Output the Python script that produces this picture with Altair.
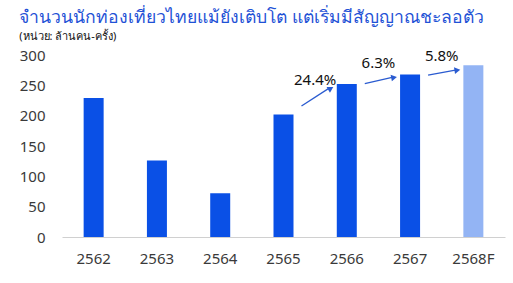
import altair as alt
import pandas as pd
import math

years = ["2562", "2563", "2564", "2565", "2566", "2567", "2568F"]
values = [229, 126, 72, 202, 252, 268, 283]
forecast = [False, False, False, False, False, False, True]

growth_from = ["2565", "2566", "2567"]
growth_to = ["2566", "2567", "2568F"]
growth_labels = ["24.4%", "6.3%", "5.8%"]
arrow_start = [216, 253, 267]
arrow_end = [245, 263, 275]
label_y = [258, 287, 299]
y_ticks = [0, 50, 100, 150, 200, 250, 300]

W, H = 443, 182
Y_MAX = 300
step = W / len(years)
px_per_unit = H / Y_MAX

bars = pd.DataFrame({"year": years, "value": values, "forecast": forecast})

START_OFF, END_OFF = 18, -15
angles = []
for s, e in zip(arrow_start, arrow_end):
    dx = step + END_OFF - START_OFF
    dy = (e - s) * px_per_unit
    angles.append(90 - math.degrees(math.atan2(dy, dx)))

arrows = pd.DataFrame({
    "from": growth_from, "to": growth_to, "y1": arrow_start, "y2": arrow_end,
    "label": growth_labels, "ly": label_y, "angle": angles,
})

xscale = alt.Scale(domain=years, paddingInner=0, paddingOuter=0)
yscale = alt.Scale(domain=[0, Y_MAX])

x_axis = alt.Axis(labelAngle=0, ticks=False, domainColor="#d0d0d0",
                  labelFontSize=15, labelColor="#3a3a3a", labelPadding=14,
                  labelFont="Noto Sans", grid=False)
y_axis = alt.Axis(values=y_ticks, grid=False, domain=False, ticks=False,
                  labelFontSize=15, labelOverlap=False, labelColor="#3a3a3a",
                  labelPadding=17, labelFont="Noto Sans")

bar_layer = alt.Chart(bars).mark_bar(width=20).encode(
    x=alt.X("year:N", scale=xscale, sort=years, title=None, axis=x_axis),
    y=alt.Y("value:Q", scale=yscale, title=None, axis=y_axis),
    color=alt.Color("forecast:N", scale=alt.Scale(domain=[False, True],
                    range=["#0a50e6", "#93b4f4"]), legend=None),
)

arrow_color = "#2a5bd0"
rule_layer = alt.Chart(arrows).mark_rule(color=arrow_color, strokeWidth=1.3,
                                         xOffset=START_OFF, x2Offset=END_OFF - 3).encode(
    x=alt.X("from:N", scale=xscale, sort=years, title=None, axis=x_axis),
    x2="to:N",
    y=alt.Y("y1:Q", scale=yscale, title=None, axis=y_axis),
    y2="y2:Q",
)

head_layer = alt.Chart(arrows).mark_point(shape="triangle-up", filled=True, size=45,
                                          color=arrow_color, opacity=1,
                                          xOffset=END_OFF - 1).encode(
    x=alt.X("to:N", scale=xscale, sort=years, title=None, axis=x_axis),
    y=alt.Y("y2:Q", scale=yscale, title=None, axis=y_axis),
    angle=alt.Angle("angle:Q", scale=None),
)

text_layer = alt.Chart(arrows).mark_text(fontSize=15, color="#111111", font="Noto Sans",
                                         xOffset=step / 2, baseline="middle").encode(
    x=alt.X("from:N", scale=xscale, sort=years, title=None, axis=x_axis),
    y=alt.Y("ly:Q", scale=yscale, title=None, axis=y_axis),
    text="label:N",
)

chart = alt.layer(bar_layer, rule_layer, head_layer, text_layer).properties(
    width=W, height=H,
    title=alt.TitleParams(
        "จำนวนนักท่องเที่ยวไทยแม้ยังเติบโต แต่เริ่มมีสัญญาณชะลอตัว",
        subtitle="(หน่วย: ล้านคน-ครั้ง)",
        anchor="start", frame="bounds", fontSize=17.6, fontWeight="normal",
        color="#1f52d6", subtitleFontSize=11, subtitleColor="#111111",
        subtitlePadding=4, offset=6, font="Noto Sans", subtitleFont="Noto Sans",
    ),
    autosize=alt.AutoSizeParams(type="none"),
    padding={"left": 62, "top": 55, "right": 8, "bottom": 46},
    background="white",
).configure_view(strokeWidth=0)

chart.save("out.html", embed_options={"renderer": "svg", "actions": False})
